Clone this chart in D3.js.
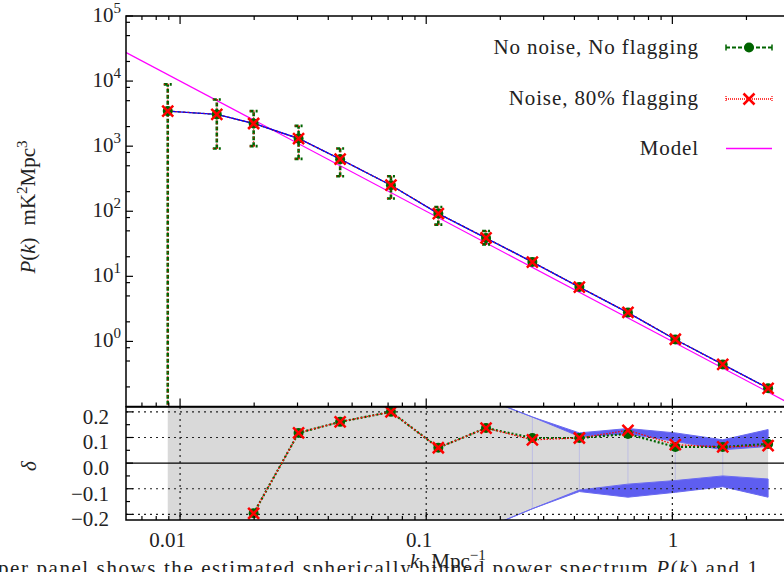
<!DOCTYPE html>
<html lang="en">
<head>
<meta charset="UTF-8">
<title>Spherically binned power spectrum</title>
<style>
  body { margin: 0; background: #fff; }
  svg { display: block; font-family: "Liberation Serif", "DejaVu Serif", serif; }
  .lbl { font-size: 21px; fill: #222; }
</style>
</head>
<body>
<div id="chart"></div>
<script src="https://d3js.org/d3.v7.min.js"></script>
<script>
// k bins (Mpc^-1)
var kBins = [0.00891, 0.0141, 0.0199, 0.0303, 0.0447, 0.0719, 0.112, 0.175, 0.270, 0.419, 0.660, 1.028, 1.602, 2.449];

// P(k) estimates, mK^2 Mpc^3
var pNoNoise = [3455, 3076, 2234, 1313, 631, 251, 92.2, 38.8, 16.6, 6.84, 2.77, 1.07, 0.443, 0.191];
var pNoise   = [3460, 3080, 2230, 1310, 632, 252, 92.0, 38.9, 16.5, 6.84, 2.79, 1.08, 0.443, 0.190];
var errHi    = [8900, 5220, 3455, 2050, 923, 345, 116, 49.8, 18.4, 7.3, 2.9, 1.11, 0.46, 0.198];
var errLo    = [0.001, 923, 1000, 638, 345, 157, 62.4, 31.0, 15.0, 6.4, 2.65, 1.03, 0.427, 0.184];

// model line end points
var modelK = [0.006, 3];
var modelP = [27800, 0.111];

// fractional deviation, lower panel
var deltaNoNoise = [null, null, -0.196, 0.118, 0.161, 0.200, 0.060, 0.137, 0.098, 0.098, 0.114, 0.063, 0.063, 0.075];
var deltaNoise   = [null, null, -0.196, 0.118, 0.161, 0.200, 0.060, 0.137, 0.091, 0.098, 0.128, 0.072, 0.063, 0.068];

// error bands in the lower panel
var bandUpOuter = [2.0, 1.3, 1.0, 0.8, 0.6, 0.45, 0.33, 0.25, 0.18, 0.118, 0.135, 0.118, 0.091, 0.131];
var bandUpInner = [2.0, 1.3, 1.0, 0.8, 0.6, 0.45, 0.33, 0.25, 0.18, 0.104, 0.114, 0.085, 0.052, 0.065];
var bandLoInner = [-2.0, -1.3, -1.0, -0.8, -0.6, -0.45, -0.33, -0.253, -0.178, -0.105, -0.082, -0.068, -0.050, -0.062];
var bandLoOuter = [-2.0, -1.3, -1.0, -0.8, -0.6, -0.45, -0.33, -0.253, -0.178, -0.111, -0.133, -0.114, -0.092, -0.133];

var xTicks = [0.01, 0.1, 1];
var xTickLabels = ["0.01", "0.1", "1"];
var pTicks = [1, 10, 100, 1000, 10000, 100000];
var pTickExp = ["0", "1", "2", "3", "4", "5"];
var dTicks = [-0.2, -0.1, 0, 0.1, 0.2];
var dTickLabels = ["\u22120.2", "\u22120.1", "0.0", "0.1", "0.2"];
var legendLabels = ["No noise, No flagging", "Noise, 80% flagging", "Model"];

var GREEN = "#006400", RED = "#ff0000", BLUE = "#0000ff", MAG = "#ff00ff";

var svg = d3.select("#chart").append("svg")
    .attr("width", 784)
    .attr("height", 572);

var x = d3.scaleLog().domain([0.00603, 2.95]).range([126, 788]);
var yP = d3.scaleLog().domain([0.1, 1e5]).range([406.5, 16]);
var yD = d3.scaleLinear().domain([-0.222, 0.219]).range([520, 407]);

var L = 126, R = 788, T1 = 16, B1 = 406.5, T2 = 407, B2 = 520;

var defs = svg.append("defs");
defs.append("clipPath").attr("id", "clipTop").append("rect")
    .attr("x", L).attr("y", T1).attr("width", R - L).attr("height", B1 - T1);
defs.append("clipPath").attr("id", "clipBot").append("rect")
    .attr("x", L).attr("y", T2).attr("width", R - L).attr("height", B2 - T2);

var idx = d3.range(kBins.length);

// ---------- lower panel ----------
var lower = svg.append("g").attr("clip-path", "url(#clipBot)");

lower.append("path")
    .datum(idx)
    .attr("fill", "#d9d9d9")
    .attr("d", d3.area()
        .x(function(i) { return x(kBins[i]); })
        .y0(function(i) { return yD(bandLoInner[i]); })
        .y1(function(i) { return yD(bandUpInner[i]); }));

// faint edge artefacts of the filled curves
lower.selectAll(".edge")
    .data(idx.filter(function(i) { return i >= 8 && i < kBins.length - 1; }))
    .enter().append("line")
    .attr("x1", function(i) { return x(kBins[i]); })
    .attr("x2", function(i) { return x(kBins[i]); })
    .attr("y1", function(i) { return yD(bandUpInner[i]); })
    .attr("y2", function(i) { return yD(bandLoInner[i]); })
    .attr("stroke", "#b8b8e6")
    .attr("stroke-width", 0.8);

[[bandUpInner, bandUpOuter], [bandLoInner, bandLoOuter]].forEach(function(b) {
  lower.append("path")
      .datum(idx)
      .attr("fill", "#5e5ef0")
      .attr("stroke", "#6a6af0")
      .attr("stroke-width", 1)
      .attr("d", d3.area()
          .x(function(i) { return x(kBins[i]); })
          .y0(function(i) { return yD(b[0][i]); })
          .y1(function(i) { return yD(b[1][i]); }));
});

// grid
lower.selectAll(".hgrid")
    .data(dTicks.filter(function(d) { return d !== 0; }))
    .enter().append("line")
    .attr("x1", L).attr("x2", R)
    .attr("y1", function(d) { return yD(d); })
    .attr("y2", function(d) { return yD(d); })
    .attr("stroke", "#222").attr("stroke-width", 1.2)
    .attr("stroke-dasharray", "2,4");
lower.selectAll(".vgrid")
    .data(xTicks)
    .enter().append("line")
    .attr("x1", function(d) { return x(d); })
    .attr("x2", function(d) { return x(d); })
    .attr("y1", T2).attr("y2", B2)
    .attr("stroke", "#222").attr("stroke-width", 1.2)
    .attr("stroke-dasharray", "2,4");
lower.append("line")
    .attr("x1", L).attr("x2", R)
    .attr("y1", yD(0)).attr("y2", yD(0))
    .attr("stroke", "#000").attr("stroke-width", 1.3);

var dLine = function(arr) {
  return d3.line()
      .defined(function(i) { return arr[i] !== null; })
      .x(function(i) { return x(kBins[i]); })
      .y(function(i) { return yD(arr[i]); });
};
lower.append("path").datum(idx)
    .attr("fill", "none").attr("stroke", GREEN).attr("stroke-width", 2.2)
    .attr("stroke-dasharray", "2,2").attr("d", dLine(deltaNoNoise));
lower.append("path").datum(idx)
    .attr("fill", "none").attr("stroke", RED).attr("stroke-width", 1.3)
    .attr("stroke-dasharray", "1.5,1.5").attr("d", dLine(deltaNoise));

function drawCircle(g, cx, cy) {
  g.append("circle").attr("cx", cx).attr("cy", cy).attr("r", 5).attr("fill", GREEN);
}
function drawCross(g, cx, cy) {
  var s = 5.5;
  g.append("path")
      .attr("d", "M" + (cx - s) + "," + (cy - s) + "L" + (cx + s) + "," + (cy + s) +
                 "M" + (cx - s) + "," + (cy + s) + "L" + (cx + s) + "," + (cy - s))
      .attr("stroke", RED).attr("stroke-width", 2.5).attr("fill", "none");
}

idx.forEach(function(i) {
  if (deltaNoNoise[i] !== null) drawCircle(lower, x(kBins[i]), yD(deltaNoNoise[i]));
});
idx.forEach(function(i) {
  if (deltaNoise[i] !== null) drawCross(lower, x(kBins[i]), yD(deltaNoise[i]));
});

// ---------- upper panel ----------
var upper = svg.append("g").attr("clip-path", "url(#clipTop)");

upper.append("path")
    .datum(d3.range(modelK.length))
    .attr("fill", "none").attr("stroke", MAG).attr("stroke-width", 1.2)
    .attr("d", d3.line()
        .x(function(i) { return x(modelK[i]); })
        .y(function(i) { return yP(modelP[i]); }));

// error bars
function errBars(color, width, dash) {
  var g = upper.append("g")
      .attr("stroke", color).attr("stroke-width", width)
      .attr("stroke-dasharray", dash).attr("fill", "none");
  idx.forEach(function(i) {
    var cx = x(kBins[i]), y0 = yP(errLo[i]), y1 = yP(errHi[i]);
    g.append("line").attr("x1", cx).attr("x2", cx).attr("y1", y0).attr("y2", y1);
    g.append("line").attr("x1", cx - 4).attr("x2", cx + 4).attr("y1", y0).attr("y2", y0);
    g.append("line").attr("x1", cx - 4).attr("x2", cx + 4).attr("y1", y1).attr("y2", y1);
  });
}
errBars(GREEN, 2.6, "4,2");
errBars(RED, 1.1, "1,3");

var pLine = function(arr) {
  return d3.line()
      .x(function(i) { return x(kBins[i]); })
      .y(function(i) { return yP(arr[i]); });
};
upper.append("path").datum(idx)
    .attr("fill", "none").attr("stroke", GREEN).attr("stroke-width", 1.2)
    .attr("stroke-dasharray", "3,2").attr("d", pLine(pNoNoise));
upper.append("path").datum(idx)
    .attr("fill", "none").attr("stroke", BLUE).attr("stroke-width", 1.4)
    .attr("d", pLine(pNoNoise));
upper.append("path").datum(idx)
    .attr("fill", "none").attr("stroke", RED).attr("stroke-width", 1.1)
    .attr("stroke-dasharray", "1,3").attr("d", pLine(pNoise));

idx.forEach(function(i) { drawCircle(upper, x(kBins[i]), yP(pNoNoise[i])); });
idx.forEach(function(i) { drawCross(upper, x(kBins[i]), yP(pNoise[i])); });

// ---------- frames and ticks ----------
var frame = svg.append("g").attr("stroke", "#000").attr("fill", "none");
frame.append("rect").attr("x", L).attr("y", T1).attr("width", R - L).attr("height", B1 - T1)
    .attr("stroke-width", 1.5);
frame.append("rect").attr("x", L).attr("y", T2).attr("width", R - L).attr("height", B2 - T2)
    .attr("stroke-width", 1.5);

var xMinor = [];
[0.001, 0.01, 0.1, 1].forEach(function(d) {
  d3.range(2, 10).forEach(function(m) {
    var v = m * d;
    if (v > x.domain()[0] && v < x.domain()[1]) xMinor.push(v);
  });
});

function xTickMarks(yEdge, dir, sets) {
  sets.forEach(function(s) {
    frame.selectAll(null).data(s.vals).enter().append("line")
        .attr("x1", function(d) { return x(d); })
        .attr("x2", function(d) { return x(d); })
        .attr("y1", yEdge).attr("y2", yEdge + dir * s.len)
        .attr("stroke-width", 1.2);
  });
}
var xSets = [{ vals: xTicks, len: 8 }, { vals: xMinor, len: 4 }];
xTickMarks(T1, 1, xSets);
xTickMarks(B1, -1, xSets);
xTickMarks(B2, -1, xSets);

var pMinor = [];
pTicks.forEach(function(d) {
  [0.2, 0.5, 0.8].forEach(function(m) {
    var v = m * d;
    if (v > 0.1) pMinor.push(v);
  });
});
frame.selectAll(null).data(pTicks).enter().append("line")
    .attr("x1", L).attr("x2", L + 7)
    .attr("y1", function(d) { return yP(d); }).attr("y2", function(d) { return yP(d); })
    .attr("stroke-width", 1.2);
frame.selectAll(null).data(pMinor).enter().append("line")
    .attr("x1", L).attr("x2", L + 4)
    .attr("y1", function(d) { return yP(d); }).attr("y2", function(d) { return yP(d); })
    .attr("stroke-width", 1.2);

var dMinor = [-0.15, -0.05, 0.05, 0.15];
frame.selectAll(null).data(dTicks).enter().append("line")
    .attr("x1", L).attr("x2", L + 7)
    .attr("y1", function(d) { return yD(d); }).attr("y2", function(d) { return yD(d); })
    .attr("stroke-width", 1.2);
frame.selectAll(null).data(dMinor).enter().append("line")
    .attr("x1", L).attr("x2", L + 4)
    .attr("y1", function(d) { return yD(d); }).attr("y2", function(d) { return yD(d); })
    .attr("stroke-width", 1.2);

// ---------- tick labels ----------
pTicks.forEach(function(d, i) {
  var t = svg.append("text").attr("class", "lbl")
      .attr("x", 121).attr("y", yP(d) + 6)
      .attr("text-anchor", "end");
  t.append("tspan").text("10");
  t.append("tspan").attr("dy", -9).attr("font-size", 15).text(pTickExp[i]);
});

dTicks.forEach(function(d, i) {
  svg.append("text").attr("class", "lbl")
      .attr("x", 109).attr("y", yD(d) + 12)
      .attr("text-anchor", "end")
      .text(dTickLabels[i]);
});

xTicks.forEach(function(d, i) {
  svg.append("text").attr("class", "lbl")
      .attr("x", x(d) + 6).attr("y", 547)
      .attr("text-anchor", "end")
      .text(xTickLabels[i]);
});

// ---------- axis titles ----------
var yt = svg.append("text").attr("class", "lbl")
    .attr("transform", "translate(35,207) rotate(-90)")
    .attr("text-anchor", "middle");
yt.append("tspan").attr("font-style", "italic").text("P");
yt.append("tspan").text("(");
yt.append("tspan").attr("font-style", "italic").text("k");
yt.append("tspan").text(")");
yt.append("tspan").attr("dx", 12).text("mK");
yt.append("tspan").attr("dy", -8).attr("font-size", 15).text("2");
yt.append("tspan").attr("dy", 8).text("Mpc");
yt.append("tspan").attr("dy", -8).attr("font-size", 15).text("3");

svg.append("text").attr("class", "lbl")
    .attr("transform", "translate(36,466) rotate(-90)")
    .attr("text-anchor", "middle")
    .attr("font-style", "italic")
    .text("\u03b4");

// caption line of the paper, cut at the bottom
var cap = svg.append("text").attr("class", "lbl")
    .attr("x", -2).attr("y", 575)
    .attr("textLength", 760).attr("lengthAdjust", "spacing");
cap.append("tspan").text("per panel shows the estimated spherically binned power spectrum ");
cap.append("tspan").attr("font-style", "italic").text("P");
cap.append("tspan").text("(");
cap.append("tspan").attr("font-style", "italic").text("k");
cap.append("tspan").text(") and 1");

var xt = svg.append("text").attr("class", "lbl")
    .attr("x", 410).attr("y", 568);
xt.append("tspan").attr("font-style", "italic").text("k");
xt.append("tspan").attr("dx", 12).text("Mpc");
xt.append("tspan").attr("dy", -8).attr("font-size", 15).text("\u22121");

// ---------- legend ----------
var legRows = [47.5, 99, 148.5];
var lg = svg.append("g");
legendLabels.forEach(function(name, i) {
  lg.append("text").attr("class", "lbl")
      .attr("x", 699).attr("y", legRows[i] + 6)
      .attr("text-anchor", "end")
      .attr("letter-spacing", 0.9)
      .text(name);
});
// row 1: no noise
lg.append("line").attr("x1", 726).attr("x2", 772).attr("y1", legRows[0]).attr("y2", legRows[0])
    .attr("stroke", GREEN).attr("stroke-width", 2.2).attr("stroke-dasharray", "4,2");
[726, 772].forEach(function(ex) {
  lg.append("line").attr("x1", ex).attr("x2", ex).attr("y1", legRows[0] - 3).attr("y2", legRows[0] + 3)
      .attr("stroke", GREEN).attr("stroke-width", 1.5);
});
drawCircle(lg, 749, legRows[0]);
// row 2: noise
lg.append("line").attr("x1", 726).attr("x2", 772).attr("y1", legRows[1]).attr("y2", legRows[1])
    .attr("stroke", RED).attr("stroke-width", 1.5).attr("stroke-dasharray", "1,1");
[726, 772].forEach(function(ex) {
  lg.append("line").attr("x1", ex).attr("x2", ex).attr("y1", legRows[1] - 3).attr("y2", legRows[1] + 3)
      .attr("stroke", RED).attr("stroke-width", 1.2).attr("stroke-dasharray", "1,1");
});
drawCross(lg, 749, legRows[1]);
// row 3: model
lg.append("line").attr("x1", 726).attr("x2", 772).attr("y1", legRows[2]).attr("y2", legRows[2])
    .attr("stroke", MAG).attr("stroke-width", 1.3);
</script>
</body>
</html>
